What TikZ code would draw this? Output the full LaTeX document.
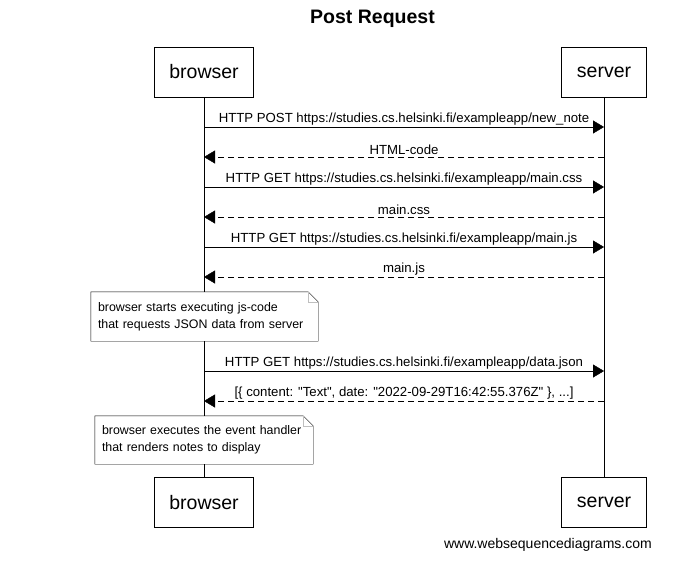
\documentclass[tikz,border=0pt]{standalone}
\usepackage{fontspec}
\setmainfont{Liberation Sans}
\usetikzlibrary{positioning,calc,arrows.meta}

\newcommand\notefold[1]{%
  \draw (#1.north west) -- ([xshift=-10pt]#1.north east) -- ([yshift=-10pt]#1.north east) -- (#1.south east) -- (#1.south west) -- cycle;
  \draw[gray!50] ([xshift=-10pt]#1.north east) -- ([xshift=-10pt,yshift=-10pt]#1.north east) -- ([yshift=-10pt]#1.north east);}

\begin{document}
\begin{tikzpicture}
    [x=1pt,y=-1pt,>={Triangle[length=11pt,width=13pt]},
     actor/.style={draw,minimum height=50pt,fill=white,font=\fontsize{19.5}{22}\selectfont},
     msg/.style={font=\fontsize{13.2}{15}\selectfont,inner sep=2pt},
     reply/.style={->,dash pattern=on 6pt off 4pt},
     note/.style={fill=white,font=\fontsize{12.4}{17}\selectfont,align=left,inner xsep=7pt,inner ysep=0pt}]

    \useasboundingbox (0,0) rectangle (690,568);

    \node[font=\bfseries\fontsize{19.5}{22}\selectfont] (title) at (372.5,19) {Post Request};

    % participants
    \node[actor,minimum width=99pt] (browser) at (204,72) {browser};
    \node[actor,minimum width=85pt] (server) at (604,72) {server};
    \node[actor,minimum width=99pt] (browserend) at (204,502.5) {browser};
    \node[actor,minimum width=85pt] (serverend) at (604,502.5) {server};

    \draw (browser) -- (browserend);
    \draw (server) -- (serverend);

    % messages
    \draw[->] (browser |- 0,127) -- (server |- 0,127) node[msg,midway,above] {HTTP POST https://studies.cs.helsinki.fi/exampleapp/new\_note};
    \draw[reply] (server |- 0,157) -- (browser |- 0,157) node[msg,midway,above] {HTML-code};
    \draw[->] (browser |- 0,187) -- (server |- 0,187) node[msg,midway,above] {HTTP GET https://studies.cs.helsinki.fi/exampleapp/main.css};
    \draw[reply] (server |- 0,217) -- (browser |- 0,217) node[msg,midway,above] {main.css};
    \draw[->] (browser |- 0,247) -- (server |- 0,247) node[msg,midway,above] {HTTP GET https://studies.cs.helsinki.fi/exampleapp/main.js};
    \draw[reply] (server |- 0,277) -- (browser |- 0,277) node[msg,midway,above] {main.js};

    \node[note,text width=213pt,minimum height=49pt] (jsnote) at (204.5,316.5) {browser starts executing js-code\\that requests JSON data from server};
    \notefold{jsnote}

    \draw[->] (browser |- 0,371) -- (server |- 0,371) node[msg,midway,above] {HTTP GET https://studies.cs.helsinki.fi/exampleapp/data.json};
    \draw[reply] (server |- 0,401) -- (browser |- 0,401) node[msg,midway,above] {[\{ content: \textquotedbl Text\textquotedbl, date: \textquotedbl 2022-09-29T16:42:55.376Z\textquotedbl\ \}, ...]};

    \node[note,text width=204pt,minimum height=48pt] (handlernote) at (204,440) {browser executes the event handler\\that renders notes to display};
    \notefold{handlernote}

    \node[msg,font=\fontsize{14}{16}\selectfont,anchor=east] (credit) at (654,545) {www.websequencediagrams.com};

\end{tikzpicture}
\end{document}
